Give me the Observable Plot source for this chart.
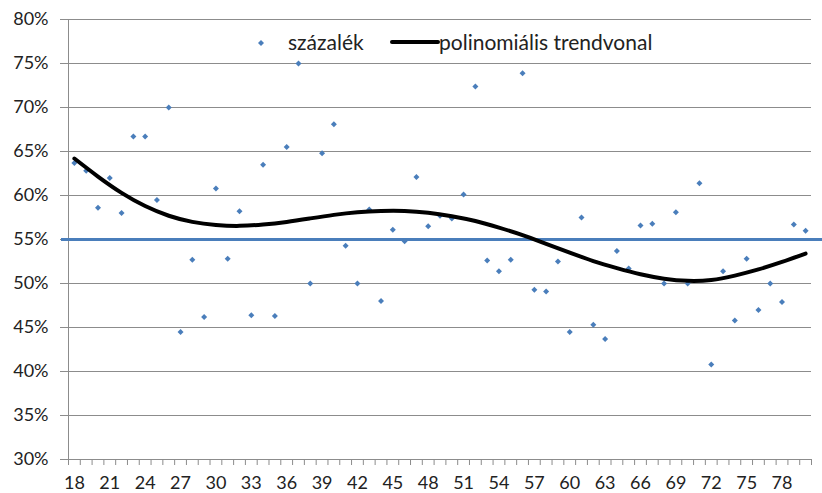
<!DOCTYPE html>
<html><head><meta charset="utf-8">
<script src="https://cdn.jsdelivr.net/npm/d3@7"></script>
<script src="https://cdn.jsdelivr.net/npm/@observablehq/plot@0.6"></script>
<style>
body{margin:0;background:#fff;}
#wrap{position:relative;width:822px;height:493px;font-family:Lato,sans-serif;color:#222;}
#chart svg{overflow:visible;}
#legend{position:absolute;left:0;top:0;width:822px;height:60px;pointer-events:none;font-size:21px;}
#legend svg{position:absolute;left:0;top:0;}
.lt{position:absolute;top:28px;line-height:27px;white-space:nowrap;}
</style></head><body>
<div id="wrap"><div id="chart"></div>
<div id="legend">
<svg width="822" height="60"><path d="M261,40 L264,43 L261,46 L258,43 Z" fill="#4a7ebb"/><line x1="392" y1="42" x2="438" y2="42" stroke="#000" stroke-width="4" stroke-linecap="round"/></svg>
<span class="lt" style="left:288px">százalék</span>
<span class="lt" style="left:439px">polinomiális trendvonal</span>
</div></div>
<script>
const ages = [18,19,20,21,22,23,24,25,26,27,28,29,30,31,32,33,34,35,36,37,38,39,40,41,42,43,44,45,46,47,48,49,
  50,51,52,53,54,55,56,57,58,59,60,61,62,63,64,65,66,67,68,69,70,71,72,73,74,75,76,77,78,79,80];
const pct = [63.7,62.8,58.6,62.0,58.0,66.7,66.7,59.5,70.0,44.5,52.7,46.2,60.8,52.8,58.2,46.4,63.5,46.3,65.5,75.0,
  50.0,64.8,68.1,54.3,50.0,58.4,48.0,56.1,54.8,62.1,56.5,57.7,57.4,60.1,72.4,52.6,51.4,52.7,73.9,49.3,49.1,52.5,
  44.5,57.5,45.3,43.7,53.7,51.7,56.6,56.8,50.0,58.1,50.0,61.4,40.8,51.4,45.8,52.8,47.0,50.0,47.9,56.7,56.0];
const trendAges = [18,20,22,24,26,28,30,32,34,36,38,40,42,44,46,48,50,52,54,56,58,60,62,64,66,68,70,72,74,76,78,80];
const trendPct = [64.2,62.15,60.3,58.8,57.7,57.0,56.65,56.55,56.7,57.0,57.4,57.8,58.1,58.25,58.25,58.05,57.65,57.1,
  56.35,55.5,54.5,53.5,52.55,51.75,51.05,50.55,50.3,50.4,50.9,51.6,52.45,53.4];
const xTickLabels = [18,21,24,27,30,33,36,39,42,45,48,51,54,57,60,63,66,69,72,75,78];
const yTicks = [30,35,40,45,50,55,60,65,70,75,80];
const meanLine = [55];

const points = ages.map((a,i)=>({age:a, pct:pct[i]}));
const trend = trendAges.map((a,i)=>({age:a, pct:trendPct[i]}));
const bounds = ages.map(a=>a-0.5).concat([ages[ages.length-1]+0.5]);
const grid = "#8c8c8c";

const chart = Plot.plot({
  width: 822, height: 493,
  marginLeft: 68, marginRight: 11, marginTop: 19, marginBottom: 34,
  style: {fontFamily: "Lato, sans-serif", fontSize: "18px", color: "#222", background: "#fff", overflow: "visible"},
  x: {domain: [bounds[0], bounds[bounds.length-1]]},
  y: {domain: [30, 80]},
  marks: [
    Plot.gridY(yTicks, {stroke: grid, strokeOpacity: 1, strokeWidth: 1}),
    Plot.axisY(yTicks, {tickSize: 8, tickPadding: 12, stroke: grid, tickFormat: d => d + "%", fontSize: 18, fill: "#222", label: null}),
    Plot.frame({anchor: "left", stroke: grid}),
    Plot.axisX(bounds, {tickSize: 6, stroke: grid, tickFormat: () => "", label: null}),
    Plot.axisX(xTickLabels, {tickSize: 0, tickPadding: 17, fontSize: 18, fill: "#222", label: null}),
    Plot.ruleY(meanLine, {stroke: "#4a7ebb", strokeWidth: 3, insetLeft: -7, insetRight: -11}),
    Plot.dot(points, {x: "age", y: "pct", symbol: "diamond2", r: 2.7, fill: "#4a7ebb", stroke: "none"}),
    Plot.line(trend, {x: "age", y: "pct", curve: "natural", stroke: "#000", strokeWidth: 4})
  ]
});
document.getElementById("chart").appendChild(chart);
</script>
</body></html>
